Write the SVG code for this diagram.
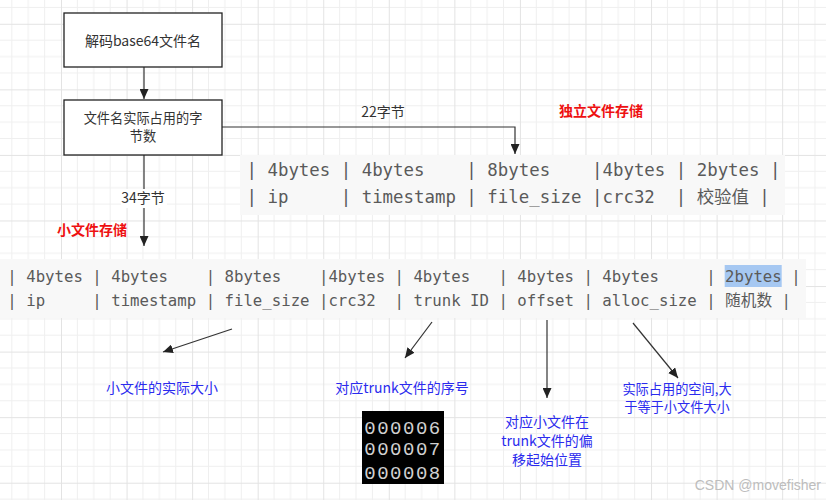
<svg xmlns="http://www.w3.org/2000/svg" width="826" height="500" viewBox="0 0 826 500">
<style>
.box{fill:#fff;stroke:#222;stroke-width:1.3}
.lbl{font-family:"Noto Sans CJK SC","Noto Sans",sans-serif;font-size:14px;fill:#333;text-anchor:middle}
.red{font-family:"Noto Sans CJK SC",sans-serif;font-size:14px;font-weight:bold;fill:#ee1111;text-anchor:middle}
.blue{font-family:"Noto Sans CJK SC",sans-serif;font-size:14px;fill:#2b2bee;text-anchor:middle}
.sm{font-size:13.2px}
.t1{font-family:"DejaVu Sans Mono","Noto Sans CJK SC",monospace;font-size:17.4px;fill:#5a5a5a}
.t2{font-family:"DejaVu Sans Mono","Noto Sans CJK SC",monospace;font-size:15.7px;fill:#5a5a5a}
.num{font-family:"Liberation Mono",monospace;font-size:19px;fill:#d0d0d0;letter-spacing:1.5px;text-anchor:middle}
.conn{stroke:#333;stroke-width:1.2;fill:none}
</style>
<defs>
<pattern id="grid" patternUnits="userSpaceOnUse" x="-4.56" y="23.8" width="65.56" height="65.56">
<path d="M16.39,0V65.56M32.78,0V65.56M49.17,0V65.56M0,16.39H65.56M0,32.78H65.56M0,49.17H65.56" stroke="#efefef" stroke-width="1" fill="none"/>
<path d="M0.5,0V65.56M0,0.5H65.56" stroke="#e3e3e3" stroke-width="1" fill="none"/>
</pattern>
<marker id="ah" markerUnits="userSpaceOnUse" markerWidth="10" markerHeight="9" refX="10" refY="4.5" orient="auto">
<path d="M0,0L10,4.5L0,9z" fill="#222"/>
</marker>
</defs>
<rect width="826" height="500" fill="#fff"/>
<rect width="826" height="500" fill="url(#grid)"/>

<g id="connectors">
<line class="conn" x1="144" y1="67" x2="144" y2="99" marker-end="url(#ah)"/>
<polyline class="conn" points="222,127 515,127 515,154" marker-end="url(#ah)"/>
<line class="conn" x1="144" y1="155" x2="144" y2="246" marker-end="url(#ah)"/>
<line class="conn" x1="232" y1="329" x2="163" y2="352" marker-end="url(#ah)"/>
<line class="conn" x1="432" y1="322" x2="405" y2="358" marker-end="url(#ah)"/>
<line class="conn" x1="547" y1="320" x2="547" y2="398" marker-end="url(#ah)"/>
<line class="conn" x1="633" y1="323" x2="678" y2="378" marker-end="url(#ah)"/>
</g>

<g id="decode">
<rect class="box" x="64" y="13" width="158" height="54"/>
<text class="lbl" x="143" y="46">解码base64文件名</text>
</g>
<g id="bytes">
<rect class="box" x="64" y="100" width="158" height="55"/>
<text class="lbl sm" x="143" y="122.5">文件名实际占用的字</text>
<text class="lbl sm" x="143" y="141">节数</text>
</g>
<g id="label22">
<text class="lbl" x="383" y="117">22字节</text>
</g>
<g id="label34">
<rect x="121" y="189" width="46" height="19" fill="#fff"/>
<text class="lbl" x="143" y="203">34字节</text>
</g>
<g id="label-independent">
<text class="red" x="601" y="116">独立文件存储</text>
</g>
<g id="label-small">
<text class="red" x="92" y="235">小文件存储</text>
</g>

<g id="table-independent">
<rect x="240" y="155" width="545" height="60" fill="#f8f8f8"/>
<text class="t1" x="246.5" y="176" xml:space="preserve">| 4bytes | 4bytes    | 8bytes    |4bytes | 2bytes |</text>
<text class="t1" x="246.5" y="203" xml:space="preserve">| ip     | timestamp | file_size |crc32  | 校验值 |</text>
</g>

<g id="table-small">
<rect x="0" y="259" width="806" height="59" fill="#f8f8f8"/>
<rect x="724.7" y="265" width="57" height="22" fill="#a6c8f2"/>
<text class="t2" x="7.3" y="281.5" xml:space="preserve">| 4bytes | 4bytes    | 8bytes    |4bytes | 4bytes   | 4bytes | 4bytes     | 2bytes |</text>
<text class="t2" x="7.3" y="305.5" xml:space="preserve">| ip     | timestamp | file_size |crc32  | trunk ID | offset | alloc_size | 随机数 |</text>
</g>

<g id="note-size">
<text class="blue" x="162" y="393">小文件的实际大小</text>
</g>
<g id="note-trunk">
<text class="blue" x="402" y="393">对应trunk文件的序号</text>
</g>
<g id="trunk-list">
<rect x="362" y="411" width="82" height="73" fill="#000"/>
<text class="num" x="403" y="433.5">000006</text>
<text class="num" x="403" y="455">000007</text>
<text class="num" x="403" y="478.5">000008</text>
</g>
<g id="note-offset">
<text class="blue" x="547" y="426.5">对应小文件在</text>
<text class="blue" x="547" y="445.5">trunk文件的偏</text>
<text class="blue" x="547" y="464.5">移起始位置</text>
</g>
<g id="note-alloc">
<text class="blue sm" x="677" y="393.5">实际占用的空间,大</text>
<text class="blue sm" x="677" y="412">于等于小文件大小</text>
</g>
<text x="821" y="490" font-family="Liberation Sans,Arial,sans-serif" font-size="14" fill="#bdbdbd" text-anchor="end">CSDN @movefisher</text>
</svg>
